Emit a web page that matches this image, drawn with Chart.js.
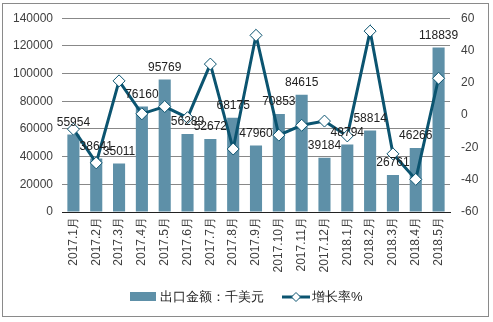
<!DOCTYPE html>
<html>
<head>
<meta charset="utf-8">
<script src="https://cdn.jsdelivr.net/npm/chart.js@4"></script>
<style>
    html, body { margin: 0; padding: 0; background: #fff; }
    #wrap { width: 493px; height: 322px; position: relative; }
</style>
</head>
<body>
<div id="wrap"><canvas id="chart" width="493" height="322"></canvas></div>
<script>
// Data
const months = ['2017.1月', '2017.2月', '2017.3月', '2017.4月', '2017.5月', '2017.6月', '2017.7月', '2017.8月', '2017.9月',
    '2017.10月', '2017.11月', '2017.12月', '2018.1月', '2018.2月', '2018.3月', '2018.4月', '2018.5月'];
const exportValues = [55954, 38641, 35011, 76160, 95769, 56289, 52672, 68175, 47960, 70853, 84615, 39184, 48794, 58814, 26761, 46266, 118839];
const growthRates = [-8.7, -29.6, 21.2, 0.8, 5.3, -1.6, 31.6, -21, 49.4, -12.4, -6.3, -3.7, -12.9, 52, -24, -39.8, 22.8];
const leftTicks = [0, 20000, 40000, 60000, 80000, 100000, 120000, 140000];
const rightTicks = [-60, -40, -20, 0, 20, 40, 60];

const barName = '出口金额：千美元';
const lineName = '增长率%';
const barColor = '#5e90a8';
const lineColor = '#0b5470';
const textColor = '#404040';
const fontFamily = '"Liberation Sans", Arial, sans-serif';

// Outer border
const borderPlugin = {
    id: 'border',
    beforeDraw(chart) {
        const ctx = chart.ctx;
        ctx.save();
        ctx.fillStyle = '#fff';
        ctx.fillRect(0, 0, chart.width, chart.height);
        ctx.strokeStyle = '#8a8a8a';
        ctx.lineWidth = 1;
        ctx.strokeRect(2.5, 3.5, 486, 313);
        ctx.restore();
    }
};

// Value labels above bars (bar dataset is index 1)
const barLabels = {
    id: 'barLabels',
    afterDatasetsDraw(chart) {
        const ctx = chart.ctx;
        const meta = chart.getDatasetMeta(1);
        ctx.save();
        ctx.font = '12px ' + fontFamily;
        ctx.fillStyle = '#222';
        ctx.textAlign = 'center';
        ctx.textBaseline = 'bottom';
        meta.data.forEach((bar, i) => {
            ctx.fillText(String(exportValues[i]), bar.x, bar.y - 6);
        });
        ctx.restore();
    }
};

// Legend drawn below the axis
const legendPlugin = {
    id: 'customLegend',
    afterDraw(chart) {
        const ctx = chart.ctx;
        const y = 297;
        ctx.save();
        ctx.fillStyle = barColor;
        ctx.fillRect(130, y - 5, 26, 9);
        ctx.font = '13px ' + fontFamily;
        ctx.fillStyle = '#222';
        ctx.textBaseline = 'middle';
        ctx.fillText(barName, 160, y);

        ctx.strokeStyle = lineColor;
        ctx.lineWidth = 3;
        ctx.beginPath();
        ctx.moveTo(282, y);
        ctx.lineTo(310, y);
        ctx.stroke();
        ctx.fillStyle = '#fff';
        ctx.lineWidth = 1;
        ctx.beginPath();
        ctx.moveTo(296, y - 4.5);
        ctx.lineTo(300.5, y);
        ctx.lineTo(296, y + 4.5);
        ctx.lineTo(291.5, y);
        ctx.closePath();
        ctx.fill();
        ctx.stroke();
        ctx.fillStyle = '#222';
        ctx.fillText(lineName, 312, y);
        ctx.restore();
    }
};

new Chart(document.getElementById('chart'), {
    data: {
        labels: months,
        datasets: [
            {
                type: 'line',
                label: lineName,
                data: growthRates,
                yAxisID: 'y1',
                borderColor: lineColor,
                borderWidth: 3,
                pointStyle: 'rectRot',
                pointRadius: 6,
                pointBackgroundColor: '#fff',
                pointBorderColor: lineColor,
                pointBorderWidth: 1,
                tension: 0,
                order: 0
            },
            {
                type: 'bar',
                label: barName,
                data: exportValues,
                yAxisID: 'y',
                backgroundColor: barColor,
                barPercentage: 0.53,
                categoryPercentage: 1,
                order: 1
            }
        ]
    },
    options: {
        responsive: false,
        animation: false,
        layout: { padding: { left: 0, right: 5, top: 16, bottom: 40 } },
        plugins: {
            legend: { display: false },
            tooltip: { enabled: false }
        },
        scales: {
            x: {
                grid: { display: false, drawTicks: false },
                border: { display: true, color: '#222', width: 1 },
                ticks: {
                    color: textColor,
                    font: { size: 12, family: fontFamily },
                    minRotation: 90,
                    maxRotation: 90,
                    autoSkip: false,
                    padding: 5
                },
                afterFit(scale) { scale.height = 70; }
            },
            y: {
                position: 'left',
                min: 0,
                max: 140000,
                afterBuildTicks(scale) { scale.ticks = leftTicks.map(v => ({ value: v })); },
                grid: { color: '#888', drawTicks: false },
                border: { display: false },
                ticks: {
                    color: textColor,
                    font: { size: 12, family: fontFamily },
                    padding: 9,
                    callback: v => String(v)
                },
                afterFit(scale) { scale.width = 62; }
            },
            y1: {
                position: 'right',
                min: -60,
                max: 60,
                afterBuildTicks(scale) { scale.ticks = rightTicks.map(v => ({ value: v })); },
                grid: { display: false, drawTicks: false },
                border: { display: false },
                ticks: {
                    color: textColor,
                    font: { size: 12, family: fontFamily },
                    padding: 11,
                    callback: v => String(v)
                },
                afterFit(scale) { scale.width = 38; }
            }
        }
    },
    plugins: [borderPlugin, barLabels, legendPlugin]
});
</script>
</body>
</html>
